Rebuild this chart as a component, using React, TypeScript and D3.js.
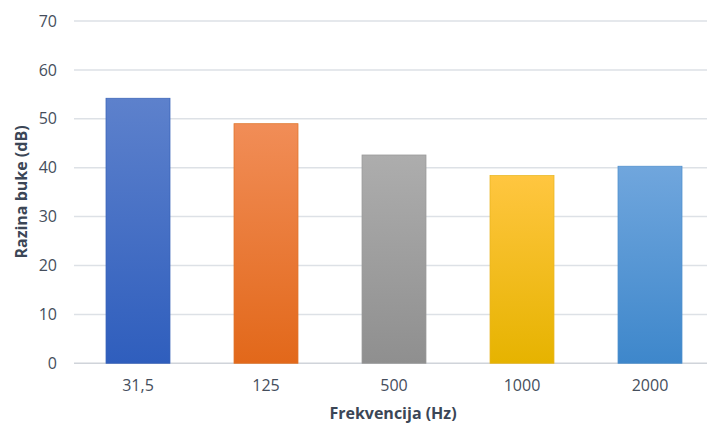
import React from "react";
import * as d3 from "d3";

const categories = ["31,5", "125", "500", "1000", "2000"];
const values = [54.2, 49.0, 42.6, 38.4, 40.3];
const yTicks = [0, 10, 20, 30, 40, 50, 60, 70];
const topColors = ["#5d81cc", "#f18d57", "#adadad", "#ffc640", "#70a6dd"];
const bottomColors = ["#2f5ebd", "#e2681a", "#8f8f8f", "#e6b300", "#3e87cb"];
const strokeColors = ["#3a64b8", "#e07428", "#9a9a9a", "#e9b620", "#4f8fcc"];

export default function App() {
  const W = 707, H = 428;
  const x = d3.scaleBand<string>().domain(categories).range([74, 714]).paddingInner(0.5).paddingOuter(0.25);
  const y = d3.scaleLinear().domain([0, 70]).range([363.3, 21]);
  const font = "'Open Sans', 'Segoe UI', sans-serif";
  return (
    <svg width={W} height={H} style={{ position: "absolute", left: 0, top: 0, background: "#fff" }}>
      <defs>
        {categories.map((c, i) => (
          <linearGradient key={c} id={`g${i}`} x1="0" y1="0" x2="0" y2="1">
            <stop offset="0%" stopColor={topColors[i]} />
            <stop offset="100%" stopColor={bottomColors[i]} />
          </linearGradient>
        ))}
      </defs>
      {yTicks.map((t) => (
        <g key={t}>
          <line x1={74} x2={707} y1={y(t)} y2={y(t)} stroke={t === 0 ? "#d0d4da" : "#dde1e6"} strokeWidth={1.5} />
          <text x={57} y={y(t)} dy="0.35em" textAnchor="end" fontFamily={font} fontSize={16} fill="#454e5c">
            {t}
          </text>
        </g>
      ))}
      {categories.map((c, i) => (
        <rect
          key={c}
          x={x(c)!}
          y={y(values[i])}
          width={x.bandwidth()}
          height={y(0) - y(values[i])}
          fill={`url(#g${i})`}
          stroke={strokeColors[i]}
          strokeWidth={0.75}
        />
      ))}
      {categories.map((c) => (
        <text key={c} x={x(c)! + x.bandwidth() / 2} y={385} dy="0.35em" textAnchor="middle" fontFamily={font} fontSize={16} fill="#454e5c">
          {c}
        </text>
      ))}
      <text x={393} y={413} dy="0.35em" textAnchor="middle" fontFamily={font} fontSize={16} fontWeight="bold" fill="#3b4656">
        Frekvencija (Hz)
      </text>
      <text transform={`translate(21,192) rotate(-90)`} dy="0.35em" textAnchor="middle" fontFamily={font} fontSize={16} fontWeight="bold" fill="#3b4656">
        Razina buke (dB)
      </text>
    </svg>
  );
}
